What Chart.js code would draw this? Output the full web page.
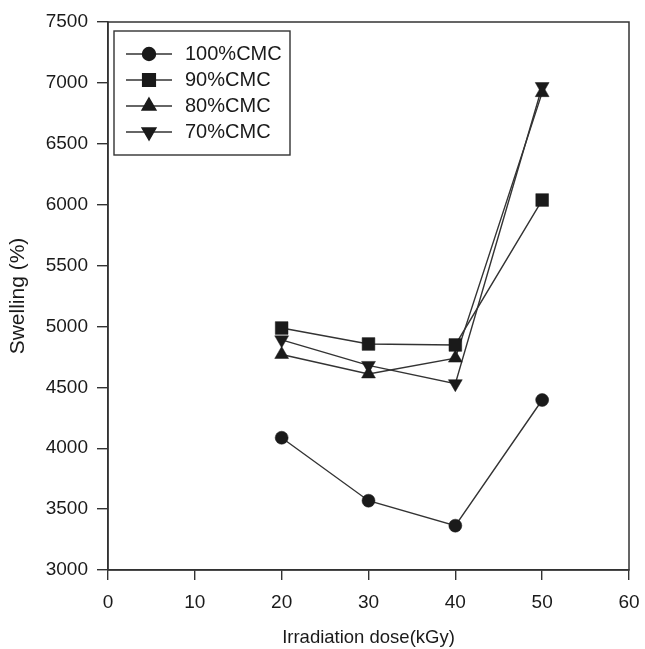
<!DOCTYPE html>
<html>
<head>
<meta charset="utf-8">
<script src="https://cdn.jsdelivr.net/npm/chart.js@4/dist/chart.umd.min.js"></script>
<style>
html,body{margin:0;padding:0;background:#fff;}
#wrap{width:645px;height:649px;position:relative;}
</style>
</head>
<body>
<div id="wrap"><canvas id="c" width="645" height="649"></canvas></div>
<script>
const doses = [20, 30, 40, 50];
const seriesNames = ["100%CMC", "90%CMC", "80%CMC", "70%CMC"];
const cmc100 = [4086, 3569, 3364, 4396];
const cmc90 = [4987, 4856, 4848, 6038];
const cmc80 = [4770, 4610, 4740, 6920];
const cmc70 = [4890, 4680, 4530, 6970];
const xTicks = [0, 10, 20, 30, 40, 50, 60];
const yTicks = [3000, 3500, 4000, 4500, 5000, 5500, 6000, 6500, 7000, 7500];

const FONT = "'Liberation Sans', Arial, Helvetica, sans-serif";
const INK = '#1a1a1a';
const LINE = '#333333';

const styles = [
  {pointStyle: 'circle', radius: 6.5, rotation: 0},
  {pointStyle: 'rect', radius: 9, rotation: 0},
  {pointStyle: 'triangle', radius: 8, rotation: 0},
  {pointStyle: 'triangle', radius: 8, rotation: 180}
];
const values = [cmc100, cmc90, cmc80, cmc70];

const datasets = values.map((vals, i) => ({
  label: seriesNames[i],
  data: doses.map((d, j) => ({x: d, y: vals[j]})),
  borderColor: LINE,
  borderWidth: 1.4,
  backgroundColor: INK,
  pointBackgroundColor: INK,
  pointBorderColor: INK,
  pointBorderWidth: 0.5,
  pointStyle: styles[i].pointStyle,
  pointRadius: styles[i].radius,
  pointRotation: styles[i].rotation,
  tension: 0,
  fill: false
}));

const frame = {
  id: 'frame',
  afterDraw(chart) {
    const a = chart.chartArea, ctx = chart.ctx;
    ctx.save();
    ctx.strokeStyle = LINE;
    ctx.lineWidth = 1.5;
    ctx.strokeRect(a.left, a.top, a.right - a.left, a.bottom - a.top);
    ctx.restore();
  }
};

const boxLegend = {
  id: 'boxLegend',
  afterDraw(chart, args, opts) {
    const a = chart.chartArea, ctx = chart.ctx;
    const x0 = a.left + opts.offsetX, y0 = a.top + opts.offsetY;
    ctx.save();
    ctx.strokeStyle = LINE;
    ctx.lineWidth = 1.4;
    ctx.strokeRect(x0, y0, opts.width, opts.height);
    chart.data.datasets.forEach((ds, i) => {
      const cy = y0 + opts.firstRow + i * opts.rowGap;
      const lx1 = x0 + opts.lineStart, lx2 = x0 + opts.lineEnd;
      ctx.strokeStyle = LINE;
      ctx.lineWidth = 1.4;
      ctx.beginPath();
      ctx.moveTo(lx1, cy);
      ctx.lineTo(lx2, cy);
      ctx.stroke();
      ctx.fillStyle = INK;
      ctx.strokeStyle = INK;
      Chart.helpers.drawPoint(ctx, {
        pointStyle: ds.pointStyle,
        rotation: ds.pointRotation,
        radius: ds.pointRadius,
        borderWidth: 0.5
      }, (lx1 + lx2) / 2, cy);
      ctx.fillStyle = INK;
      ctx.font = opts.fontSize + 'px ' + FONT;
      ctx.textAlign = 'left';
      ctx.textBaseline = 'middle';
      ctx.fillText(ds.label, x0 + opts.textStart, cy);
    });
    ctx.restore();
  }
};

new Chart(document.getElementById('c'), {
  type: 'line',
  data: {datasets},
  plugins: [frame, boxLegend],
  options: {
    responsive: false,
    animation: false,
    layout: {padding: {top: 22, right: 16, left: 0, bottom: 0}},
    plugins: {
      legend: {display: false},
      tooltip: {enabled: false},
      boxLegend: {
        offsetX: 6, offsetY: 9, width: 176, height: 124,
        firstRow: 23, rowGap: 26, lineStart: 12, lineEnd: 58, textStart: 71,
        fontSize: 20
      }
    },
    scales: {
      x: {
        type: 'linear',
        min: 0, max: 60,
        afterBuildTicks(s) { s.ticks = xTicks.map(v => ({value: v})); },
        afterFit(s) { s.height = 79; s.paddingLeft = 0; s.paddingRight = 0; },
        grid: {drawOnChartArea: false, drawTicks: true, tickLength: 10, color: LINE, lineWidth: 1.4},
        border: {display: true, color: LINE, width: 1.5},
        ticks: {color: INK, padding: 11, font: {family: FONT, size: 19}, callback: v => String(v)},
        title: {display: true, text: 'Irradiation dose(kGy)', color: INK, font: {family: FONT, size: 18.5}, padding: {top: 4, bottom: 0}}
      },
      y: {
        type: 'linear',
        min: 3000, max: 7500,
        afterBuildTicks(s) { s.ticks = yTicks.map(v => ({value: v})); },
        afterFit(s) { s.width = 108; s.paddingTop = 0; s.paddingBottom = 0; },
        grid: {drawOnChartArea: false, drawTicks: true, tickLength: 11, color: LINE, lineWidth: 1.4},
        border: {display: true, color: LINE, width: 1.5},
        ticks: {color: INK, padding: 9, font: {family: FONT, size: 19}, callback: v => String(v)},
        title: {display: true, text: 'Swelling (%)', color: INK, font: {family: FONT, size: 21}, padding: {top: 6, bottom: 4}}
      }
    }
  }
});
</script>
</body>
</html>
